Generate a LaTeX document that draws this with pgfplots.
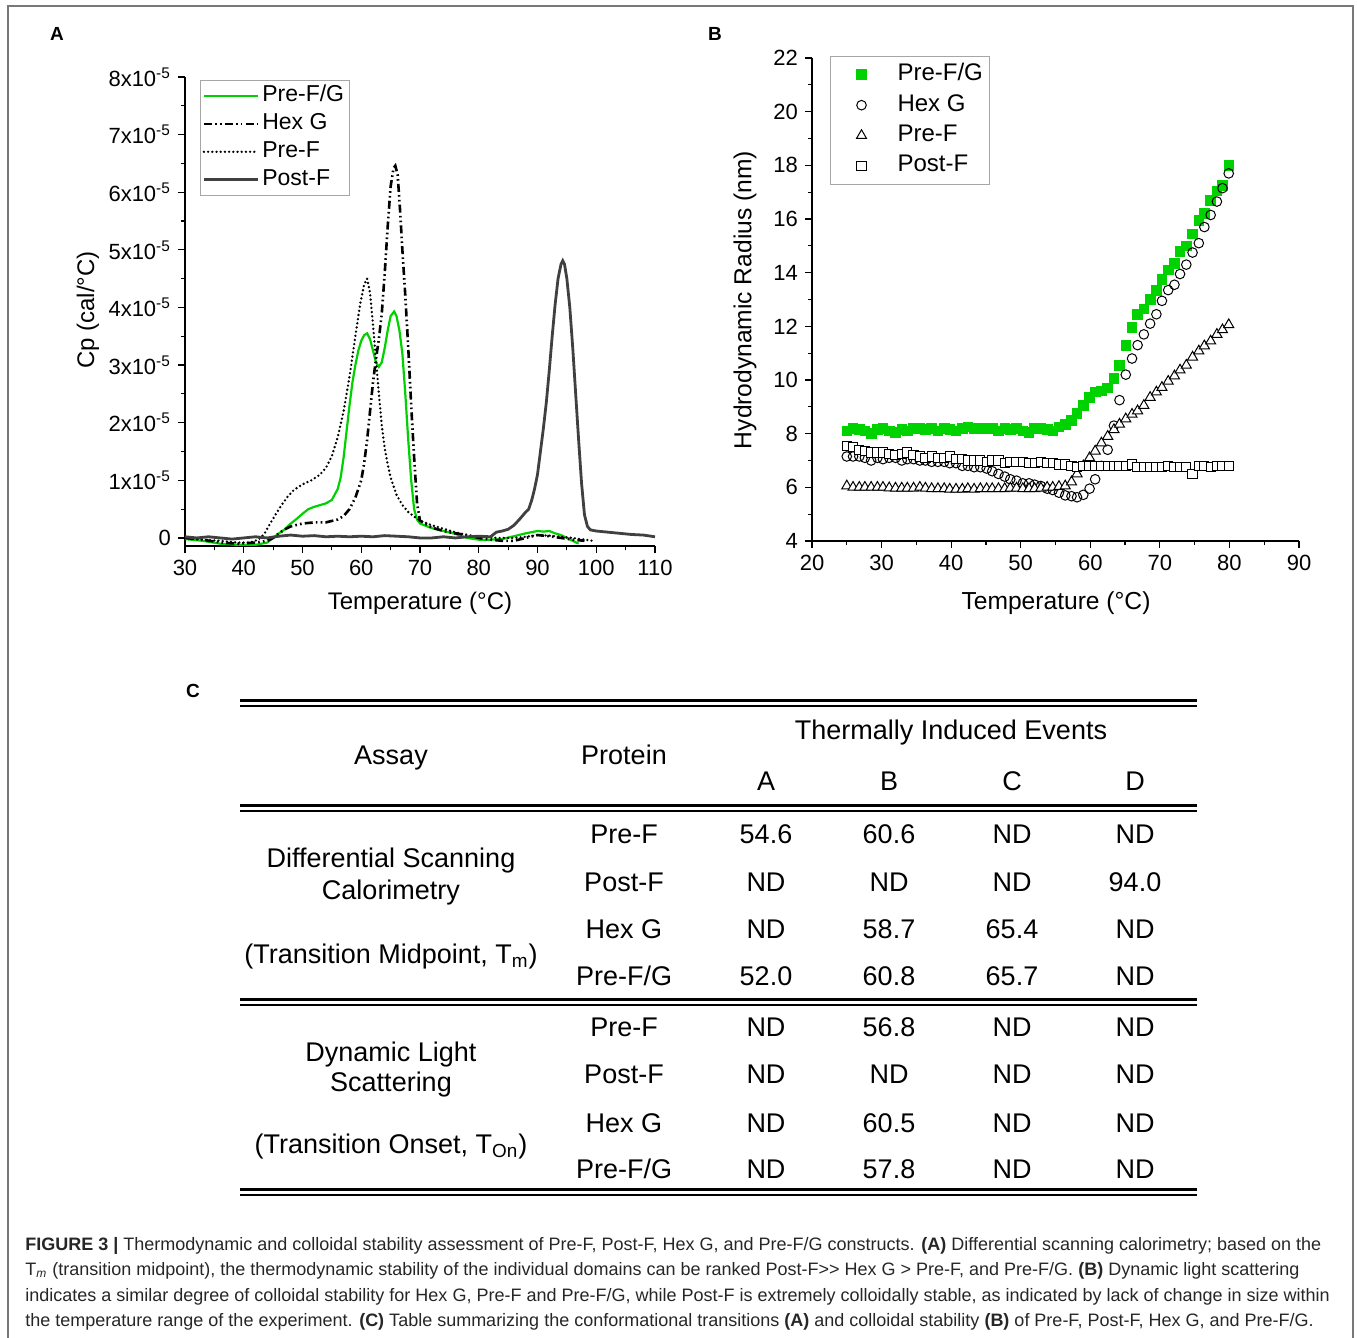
\documentclass[border=0pt]{standalone}
\usepackage{fontspec}
\setmainfont{Liberation Sans}
\usepackage{pgfplots}
\usepackage{pgfplotstable}
\pgfplotsset{compat=1.18}

\definecolor{pfg}{RGB}{0,210,0}
\definecolor{postf}{RGB}{64,64,64}
\definecolor{framegray}{RGB}{120,120,120}

% DSC traces, Cp in units of 1e-5 cal/C
\pgfplotstableread{
T v
30 -0.02
33 -0.05
36 -0.10
39 -0.12
42 -0.12
44 -0.08
45 0.00
46 0.08
47 0.15
48 0.25
49 0.33
50 0.42
51 0.50
52 0.54
53 0.57
54 0.60
55 0.66
56 0.85
56.5 1.05
57 1.40
57.5 1.85
58 2.30
58.5 2.70
59 3.00
59.5 3.25
60 3.42
60.5 3.52
61 3.55
61.5 3.45
62 3.25
62.5 3.05
63 2.97
63.5 3.05
64 3.30
64.5 3.60
65 3.85
65.6 3.93
66 3.85
66.5 3.60
67 3.20
67.5 2.50
68 1.70
68.5 1.00
69 0.50
69.5 0.32
70 0.25
72 0.17
74 0.12
76 0.07
78 0.00
80 -0.03
82 -0.03
84 -0.02
86 0.03
88 0.08
89 0.10
90 0.12
91 0.11
92 0.12
93 0.08
94 0.05
95 0.00
96 -0.05
97 -0.10
}\dscpfg

\pgfplotstableread{
T v
30 0.00
33 -0.03
36 -0.08
39 -0.10
42 -0.08
44 -0.05
45 0.00
46 0.08
47 0.15
48 0.20
50 0.25
52 0.27
54 0.27
56 0.32
57 0.38
58 0.50
59 0.70
60 1.00
60.5 1.30
61 1.70
61.5 2.20
62 2.70
62.5 3.10
63 3.45
63.5 3.90
64 4.60
64.5 5.40
65 6.10
65.5 6.42
65.8 6.46
66.2 6.30
66.6 5.70
67 5.00
67.5 4.20
68 3.30
68.5 2.30
69 1.40
69.5 0.60
70 0.30
72 0.18
74 0.12
76 0.08
78 0.05
80 0.00
82 -0.03
84 -0.05
86 -0.05
88 0.00
90 0.05
92 0.03
94 0.00
96 -0.03
98 -0.05
}\dschexg

\pgfplotstableread{
T v
30 0.00
33 -0.03
36 -0.05
39 -0.08
41 -0.08
42.5 -0.03
43.5 0.07
44.5 0.25
45.5 0.42
46.5 0.58
47.5 0.72
48.5 0.83
50 0.93
51.5 1.00
53 1.10
54 1.22
55 1.42
56 1.75
57 2.20
58 2.80
59 3.50
59.8 4.05
60.5 4.40
61 4.50
61.5 4.25
62 3.70
62.5 3.10
63 2.50
63.5 1.95
64 1.55
64.5 1.28
65 1.05
66 0.75
67 0.57
68 0.45
69 0.37
70 0.30
72 0.22
74 0.16
76 0.10
78 0.05
80 0.02
83 0.00
86 0.00
88 0.02
90 0.05
92 0.04
94 0.02
96 0.00
98 -0.03
99.5 -0.05
}\dscpref

\pgfplotstableread{
T v
30 0.02
32 0.00
34 0.02
36 0.00
38 -0.02
40 0.00
42 0.02
44 0.00
46 0.03
48 0.05
50 0.03
52 0.04
54 0.02
56 0.03
58 0.02
60 0.03
62 0.02
64 0.04
66 0.03
68 0.02
70 0.00
72 0.00
74 0.02
76 0.00
78 0.02
80 0.03
82 0.02
83 0.10
84 0.12
85 0.15
86 0.22
87 0.33
88 0.45
88.5 0.50
89 0.65
89.5 0.85
90 1.10
90.5 1.50
91 1.90
91.5 2.35
92 2.90
92.5 3.50
93 4.05
93.5 4.50
94 4.75
94.3 4.81
94.6 4.75
95 4.50
95.5 4.00
96 3.30
96.5 2.50
97 1.70
97.5 0.95
98 0.40
98.5 0.20
99 0.14
100 0.12
102 0.10
104 0.08
106 0.06
108 0.05
110 0.02
}\dscpostf

% DLS hydrodynamic radius (nm)
\pgfplotstableread{
T pfg hexg pref postf
25.0 8.10 7.15 6.05 7.55
25.9 8.20 7.15 6.00 7.50
26.8 8.15 7.15 6.00 7.40
27.6 8.10 7.10 6.00 7.35
28.5 8.00 7.00 6.00 7.30
29.4 8.15 7.10 6.00 7.30
30.2 8.20 7.05 6.00 7.30
31.1 8.10 7.10 5.98 7.25
32.0 8.05 7.10 5.97 7.20
32.9 8.15 7.00 5.97 7.25
33.7 8.10 7.05 5.97 7.30
34.6 8.20 7.05 5.97 7.20
35.5 8.20 7.00 6.00 7.15
36.3 8.15 7.00 5.97 7.10
37.2 8.20 6.95 5.95 7.15
38.1 8.10 6.95 5.95 7.10
39.0 8.20 6.95 5.95 7.10
39.8 8.15 6.90 5.93 7.15
40.7 8.10 6.90 5.93 7.05
41.6 8.20 6.80 5.93 7.05
42.4 8.25 6.80 5.95 7.00
43.3 8.20 6.75 5.93 7.00
44.2 8.20 6.75 5.95 7.00
45.1 8.20 6.70 5.95 6.95
45.9 8.20 6.60 5.95 7.00
46.8 8.10 6.50 5.95 7.00
47.7 8.20 6.40 5.95 6.90
48.5 8.15 6.30 5.97 6.95
49.4 8.20 6.25 5.97 6.95
50.3 8.10 6.15 5.95 6.95
51.2 8.05 6.15 5.95 6.90
52.0 8.20 6.10 5.95 6.90
52.9 8.20 6.05 5.97 6.95
53.8 8.15 5.95 6.00 6.90
54.6 8.10 5.90 6.00 6.90
55.5 8.25 5.80 6.03 6.85
56.4 8.35 5.70 6.05 6.85
57.3 8.50 5.67 6.20 6.80
58.1 8.75 5.63 6.50 6.75
59.0 9.05 5.72 6.80 6.80
59.9 9.35 5.95 7.10 6.80
60.7 9.55 6.30 7.35 6.80
61.6 9.60 6.80 7.65 6.80
62.5 9.70 7.40 7.90 6.80
63.4 10.05 8.30 8.15 6.80
64.2 10.55 9.25 8.35 6.80
65.1 11.30 10.20 8.55 6.80
66.0 11.95 10.80 8.72 6.85
66.8 12.45 11.30 8.85 6.75
67.7 12.65 11.70 9.05 6.75
68.6 13.00 12.10 9.35 6.75
69.5 13.35 12.45 9.55 6.75
70.3 13.75 12.95 9.72 6.75
71.2 14.10 13.35 9.95 6.80
72.1 14.35 13.55 10.15 6.75
72.9 14.80 13.95 10.37 6.75
73.8 15.00 14.30 10.55 6.75
74.7 15.45 14.75 10.85 6.50
75.6 15.95 15.10 11.08 6.80
76.4 16.20 15.70 11.27 6.80
77.3 16.70 16.15 11.45 6.75
78.2 17.05 16.65 11.70 6.80
79.0 17.25 17.15 11.87 6.80
79.9 18.00 17.70 12.06 6.80
}\dls

\pgfplotsset{
  figaxis/.style={
    scale only axis,
    anchor=south west,
    axis x line=bottom,
    axis y line=left,
    axis line style={-, line width=0.7pt},
    tick align=outside,
    major tick length=3.5pt,
    minor tick length=2pt,
    tick style={black, line width=0.6pt},
    ticklabel style={font=\fontsize{11}{13}\selectfont},
    clip=false,
  },
}

\begin{document}
\begin{tikzpicture}
\begin{scope}[x=0.5pt,y=-0.5pt]
  \path[use as bounding box] (0,0) rectangle (1357,1338);
  \draw[framegray, line width=0.6pt] (8,1338) -- (8,6) -- (1353,6) -- (1353,1338);
\end{scope}

% ---------------- panel A ----------------
\begin{axis}[figaxis,
  at={(92.5pt,-273pt)},
  width=235pt, height=234.5pt,
  xmin=30, xmax=110, ymin=-0.14, ymax=8,
  xtick={30,40,50,60,70,80,90,100,110},
  xticklabels={30,40,50,60,70,80,90,100,110},
  minor x tick num=1,
  ytick={0,1,2,3,4,5,6,7,8},
  yticklabels={0,1x10\textsuperscript{-5},2x10\textsuperscript{-5},3x10\textsuperscript{-5},4x10\textsuperscript{-5},5x10\textsuperscript{-5},6x10\textsuperscript{-5},7x10\textsuperscript{-5},8x10\textsuperscript{-5}},
  minor y tick num=1,
  legend cell align=left,
  legend style={at={(0.032,0.994)}, anchor=north west, draw=gray!70, line width=0.5pt,
    inner sep=1pt, row sep=0pt, font=\fontsize{11.5}{12}\selectfont,
    nodes={inner sep=1.5pt, text height=8.3pt, text depth=2.6pt}},
  legend image code/.code={\draw[#1] (0pt,0pt) -- (27pt,0pt);},
]
\addplot[pfg, line width=1.1pt] table[x=T,y=v] {\dscpfg};
\addlegendentry{Pre-F/G}
\addplot[black, line width=1.3pt, dash pattern=on 4pt off 1.6pt on 0.8pt off 1.6pt on 0.8pt off 1.6pt] table[x=T,y=v] {\dschexg};
\addlegendentry{Hex G}
\addplot[black, line width=1.3pt, line cap=round, dash pattern=on 0pt off 2.1pt] table[x=T,y=v] {\dscpref};
\addlegendentry{Pre-F}
\addplot[postf, line width=1.4pt] table[x=T,y=v] {\dscpostf};
\addlegendentry{Post-F}
\end{axis}

% ---------------- panel B ----------------
\begin{axis}[figaxis,
  at={(406pt,-270.5pt)},
  width=243.5pt, height=241.5pt,
  xmin=20, xmax=90, ymin=4, ymax=22,
  xtick={20,30,40,50,60,70,80,90},
  xticklabels={20,30,40,50,60,70,80,90},
  minor x tick num=1,
  ytick={4,6,8,10,12,14,16,18,20,22},
  yticklabels={4,6,8,10,12,14,16,18,20,22},
  minor y tick num=1,
  legend cell align=left,
  legend style={at={(0.037,1.004)}, anchor=north west, draw=gray!70, line width=0.5pt,
    inner sep=1.5pt, row sep=0pt, font=\fontsize{12}{13}\selectfont,
    nodes={inner sep=2pt, text height=8.6pt, text depth=2.6pt}},
  legend image code/.code={\path[draw=none] (0pt,0pt) (30pt,0pt); \draw[#1] plot coordinates {(14pt,0pt)};},
]
\addplot[only marks, mark=square*, mark size=2.4pt, draw=none, mark options={draw=pfg, fill=pfg}] table[x=T,y=pfg] {\dls};
\addlegendentry{Pre-F/G}
\addplot[only marks, mark=o, mark size=2.4pt, mark options={draw=black, fill=white, line width=0.5pt}] table[x=T,y=hexg] {\dls};
\addlegendentry{Hex G}
\addplot[only marks, mark=triangle*, mark size=2.9pt, mark options={draw=black, fill=white, line width=0.5pt}] table[x=T,y=pref] {\dls};
\addlegendentry{Pre-F}
\addplot[only marks, mark=square*, mark size=2.3pt, mark options={draw=black, fill=white, line width=0.5pt}] table[x=T,y=postf] {\dls};
\addlegendentry{Post-F}
\end{axis}

\begin{scope}[x=0.5pt,y=-0.5pt]
  % panel letters and axis titles
  \node[font=\bfseries\fontsize{9.5}{11}\selectfont] at (57,34) {A};
  \node[font=\bfseries\fontsize{9.5}{11}\selectfont] at (715,34) {B};
  \node[font=\bfseries\fontsize{9.5}{11}\selectfont] at (193,691) {C};
  \node[font=\fontsize{12}{14}\selectfont] at (420,603) {Temperature (°C)};
  \node[font=\fontsize{12}{14}\selectfont, rotate=90] at (88,310) {Cp (cal/°C)};
  \node[font=\fontsize{12.3}{14}\selectfont] at (1056,603) {Temperature (°C)};
  \node[font=\fontsize{12.3}{14}\selectfont, rotate=90] at (745,300) {Hydrodynamic Radius (nm)};

  % table rules
  \foreach \yy in {700.5,805.5,999.5,1189.5} {
    \draw[line width=1.3pt] (240,\yy) -- (1197,\yy);
    \draw[line width=1.3pt] (240,\yy+5.5) -- (1197,\yy+5.5);
  }
  \begin{scope}[every node/.style={font=\fontsize{13.5}{15}\selectfont, anchor=base}]
    \node at (391,764) {Assay};
    \node at (624,764) {Protein};
    \node at (951,739) {Thermally Induced Events};
    \node at (766,790) {A};
    \node at (889,790) {B};
    \node at (1012,790) {C};
    \node at (1135,790) {D};
    \node at (391,867) {Differential Scanning};
    \node at (391,899) {Calorimetry};
    \node at (391,963) {(Transition Midpoint, T\textsubscript{m})};
    \node at (391,1061) {Dynamic Light};
    \node at (391,1091) {Scattering};
    \node at (391,1153) {(Transition Onset, T\textsubscript{On})};
    \foreach \yy/\p/\a/\b/\c/\d in {
        843/Pre-F/54.6/60.6/ND/ND,
        891/Post-F/ND/ND/ND/94.0,
        938/Hex G/ND/58.7/65.4/ND,
        985/Pre-F\slash G/52.0/60.8/65.7/ND,
        1036/Pre-F/ND/56.8/ND/ND,
        1083/Post-F/ND/ND/ND/ND,
        1132/Hex G/ND/60.5/ND/ND,
        1178/Pre-F\slash G/ND/57.8/ND/ND} {
      \node at (624,\yy) {\p};
      \node at (766,\yy) {\a};
      \node at (889,\yy) {\b};
      \node at (1012,\yy) {\c};
      \node at (1135,\yy) {\d};
    }
  \end{scope}

  % caption
  \begin{scope}[every node/.style={font=\fontsize{9}{10}\selectfont, anchor=base west, inner sep=0pt, text=black!85}]
    \node at (25,1250) {\textbf{FIGURE 3 |} Thermodynamic and colloidal stability assessment of Pre-F, Post-F, Hex G, and Pre-F/G constructs. \textbf{(A)} Differential scanning calorimetry; based on the};
    \node at (25,1275) {T\textsubscript{\textit{m}} (transition midpoint), the thermodynamic stability of the individual domains can be ranked Post-F>\kern0pt> Hex G > Pre-F, and Pre-F/G. \textbf{(B)} Dynamic light scattering};
    \node at (25,1301) {indicates a similar degree of colloidal stability for Hex G, Pre-F and Pre-F/G, while Post-F is extremely colloidally stable, as indicated by lack of change in size within};
    \node at (25,1326) {the temperature range of the experiment. \textbf{(C)} Table summarizing the conformational transitions \textbf{(A)} and colloidal stability \textbf{(B)} of Pre-F, Post-F, Hex G, and Pre-F/G.};
  \end{scope}
\end{scope}
\end{tikzpicture}
\end{document}
